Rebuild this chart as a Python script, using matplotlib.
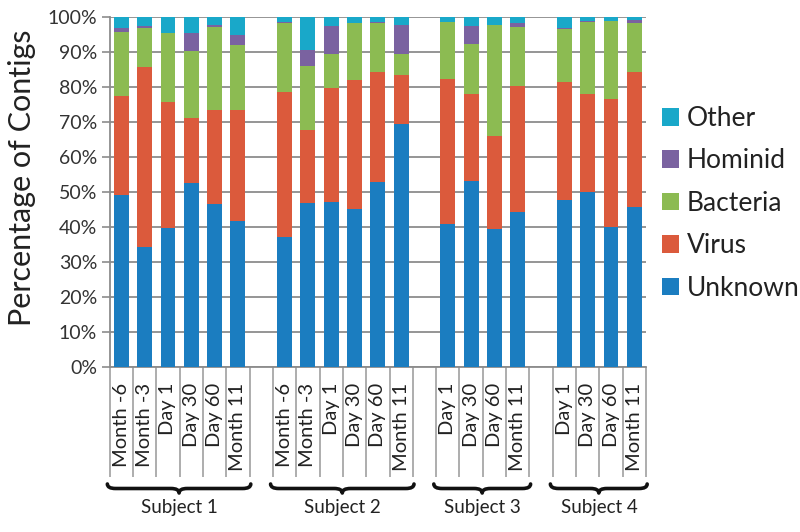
import matplotlib
matplotlib.use("Agg")
import matplotlib.pyplot as plt
from matplotlib.path import Path
from matplotlib.patches import PathPatch, Patch
import matplotlib.transforms as mtransforms

plt.rcParams['font.family'] = ['Lato', 'DejaVu Sans']

# ---------------- data ----------------
subjects = ["Subject 1", "Subject 2", "Subject 3", "Subject 4"]
timepoints = [
    ["Month -6", "Month -3", "Day 1", "Day 30", "Day 60", "Month 11"],
    ["Month -6", "Month -3", "Day 1", "Day 30", "Day 60", "Month 11"],
    ["Day 1", "Day 30", "Day 60", "Month 11"],
    ["Day 1", "Day 30", "Day 60", "Month 11"],
]
series_names = ["Unknown", "Virus", "Bacteria", "Hominid", "Other"]
unknown = [49.2, 34.5, 39.9, 52.7, 46.7, 41.9,
           37.3, 46.9, 47.1, 45.1, 52.9, 69.5,
           40.9, 53.1, 39.6, 44.5,
           47.9, 50.0, 40.0, 45.7]
virus = [28.3, 51.4, 36.0, 18.6, 26.7, 31.5,
         41.4, 20.9, 32.7, 36.9, 31.6, 14.0,
         41.5, 24.9, 26.5, 35.9,
         33.5, 28.1, 36.6, 38.6]
bacteria = [18.4, 11.1, 19.5, 19.2, 23.7, 18.7,
            19.8, 18.4, 9.7, 16.3, 13.8, 6.0,
            16.3, 14.4, 31.7, 16.9,
            15.2, 20.6, 22.4, 14.2]
hominid = [1.0, 0.5, 0.0, 4.9, 0.7, 2.7,
           0.1, 4.5, 8.0, 0.2, 0.3, 8.3,
           0.0, 5.1, 0.0, 1.2,
           0.2, 0.3, 0.0, 0.7]
other = [3.1, 2.5, 4.6, 4.6, 2.2, 5.2,
         1.4, 9.3, 2.5, 1.5, 1.4, 2.2,
         1.3, 2.5, 2.2, 1.5,
         3.2, 1.0, 1.0, 0.8]
yticks = [0, 10, 20, 30, 40, 50, 60, 70, 80, 90, 100]

colors = ["#1B7DC0", "#DB5A3C", "#8CBB52", "#7A62A0", "#19A8C9"]
grid_c = "#8C8C8C"

# ---------------- layout of slots ----------------
centers, labels, group_spans = [], [], []
slot = 0
for g, tps in enumerate(timepoints):
    start = slot
    for tp in tps:
        centers.append(slot + 0.5)
        labels.append(tp)
        slot += 1
    group_spans.append((start, slot))
    if g < len(timepoints) - 1:
        slot += 1  # blank spacer slot
n_slots = slot
boundaries = list(range(n_slots + 1))

fig = plt.figure(figsize=(8, 5.32), dpi=100)
ax = fig.add_axes([109.7 / 800, 1 - 367.3 / 532, (646 - 109.7) / 800, 350 / 532])

bottom = [0.0] * len(centers)
for name, vals, col in zip(series_names, [unknown, virus, bacteria, hominid, other], colors):
    ax.bar(centers, vals, width=0.64, bottom=bottom, color=col, label=name,
           zorder=3, linewidth=0)
    bottom = [b + v for b, v in zip(bottom, vals)]

ax.set_xlim(0, n_slots)
ax.set_ylim(0, 100)
ax.set_yticks(yticks)
ax.set_yticklabels([f"{t}%" for t in yticks], fontsize=14, color="#333333")
ax.yaxis.grid(True, color=grid_c, linewidth=1.3, zorder=0)
ax.tick_params(axis='y', length=6, width=1.2, color=grid_c, pad=3)

ax.set_xticks(boundaries)
ax.set_xticklabels([])
ax.set_xticks(centers, minor=True)
ax.set_xticklabels(labels, minor=True, rotation=90, fontsize=14.5, color="#222222")
ax.tick_params(axis='x', which='major', length=79, width=1.2, color="#A0A0A0")
ax.tick_params(axis='x', which='minor', length=0, pad=11)

for s in ["top", "right"]:
    ax.spines[s].set_visible(False)
for s in ["left", "bottom"]:
    ax.spines[s].set_color(grid_c)
    ax.spines[s].set_linewidth(1.3)

# braces and subject labels
trans = mtransforms.blended_transform_factory(ax.transData, ax.transAxes)
px = 350.0
y_end = -(484 - 367.3) / px
y_mid = -(488.5 - 367.3) / px
y_tip = -(493 - 367.3) / px
d = 0.35
for (s0, s1), name in zip(group_spans, subjects):
    x0, x1 = s0 - 0.1, s1 + 0.05
    xm = (x0 + x1) / 2
    verts = [(x0, y_end), (x0, y_mid), (x0 + d, y_mid),
             (xm - d, y_mid),
             (xm, y_mid), (xm, y_tip),
             (xm, y_mid), (xm + d, y_mid),
             (x1 - d, y_mid),
             (x1, y_mid), (x1, y_end)]
    codes = [Path.MOVETO, Path.CURVE3, Path.CURVE3,
             Path.LINETO,
             Path.CURVE3, Path.CURVE3,
             Path.CURVE3, Path.CURVE3,
             Path.LINETO,
             Path.CURVE3, Path.CURVE3]
    ax.add_patch(PathPatch(Path(verts, codes), transform=trans, fill=False,
                           edgecolor="#111111", linewidth=2.6, clip_on=False,
                           capstyle='round', joinstyle='round'))
    ax.text((s0 + s1) / 2, -(508 - 367.3) / px, name, transform=trans,
            ha='center', va='center', fontsize=13.5, color="#222222")

fig.text(22 / 800, 1 - 178 / 532, "Percentage of Contigs", rotation=90,
         ha='center', va='center', fontsize=22, color="#222222")

handles = [Patch(facecolor=c, edgecolor='none') for c in colors][::-1]
fig.legend(handles, series_names[::-1], loc='upper left',
           bbox_to_anchor=(662 / 800, 1 - 106 / 532), frameon=False,
           fontsize=19, handlelength=0.65, handleheight=0.65,
           handletextpad=0.3, labelspacing=0.66, borderaxespad=0,
           borderpad=0, labelcolor="#222222")

fig.savefig("out.png", dpi=100)
